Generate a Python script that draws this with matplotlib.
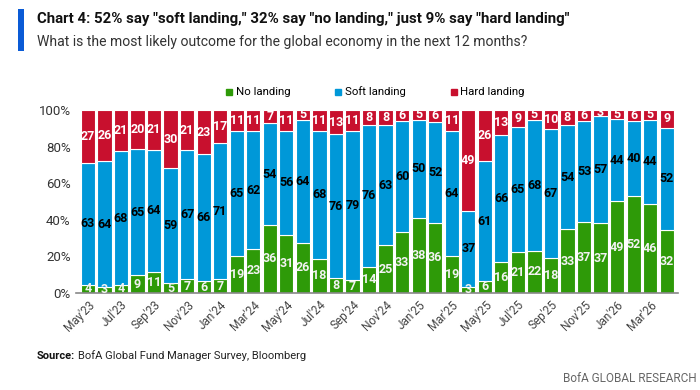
import matplotlib as mpl
mpl.use("Agg")
import matplotlib.pyplot as plt
from matplotlib.lines import Line2D
from matplotlib.patches import Rectangle
import numpy as np

mpl.rcParams["font.family"] = ["Roboto", "DejaVu Sans"]

months = ["May'23", "Jun'23", "Jul'23", "Aug'23", "Sep'23", "Oct'23", "Nov'23", "Dec'23",
          "Jan'24", "Feb'24", "Mar'24", "Apr'24", "May'24", "Jun'24", "Jul'24", "Aug'24",
          "Sep'24", "Oct'24", "Nov'24", "Dec'24", "Jan'25", "Feb'25", "Mar'25", "Apr'25",
          "May'25", "Jun'25", "Jul'25", "Aug'25", "Sep'25", "Oct'25", "Nov'25", "Dec'25",
          "Jan'26", "Feb'26", "Mar'26", "Apr'26"]
no_landing = [4, 3, 4, 9, 11, 5, 7, 6, 7, 19, 23, 36, 31, 26, 18, 8, 7, 14, 25, 33,
              38, 36, 19, 3, 6, 16, 21, 22, 18, 33, 37, 37, 49, 52, 46, 32]
soft_landing = [63, 64, 68, 65, 64, 59, 67, 66, 71, 65, 62, 54, 56, 64, 68, 76, 79, 76, 63, 60,
                50, 52, 64, 37, 61, 66, 65, 68, 67, 54, 53, 57, 44, 40, 44, 52]
hard_landing = [27, 26, 21, 20, 21, 30, 21, 23, 17, 11, 11, 7, 11, 5, 11, 13, 11, 8, 8, 6,
                5, 6, 11, 49, 26, 13, 9, 5, 10, 8, 6, 3, 5, 6, 5, 9]

GREEN, BLUE, RED = "#2E9A08", "#0098D8", "#C8102E"

fig = plt.figure(figsize=(7, 3.9), dpi=100)
ax = fig.add_axes([0.109, 0.249, 0.86, 0.469])

x = np.arange(len(months))
raw = np.array([no_landing, soft_landing, hard_landing], dtype=float)
share = raw / raw.sum(axis=0) * 100
colors = [GREEN, BLUE, RED]
txt_colors = ["#F2F2F2", "black", "white"]
bottom = np.zeros(len(months))
for vals, shr, c, tc in zip(raw, share, colors, txt_colors):
    ax.bar(x, shr, bottom=bottom, width=0.86, color=c, edgecolor="white", linewidth=0.8)
    for xi, b, h, v in zip(x, bottom, shr, vals):
        ax.text(xi, b + h / 2, f"{int(v)}", ha="center", va="center", fontsize=9,
                fontweight="bold", color=tc, clip_on=True)
    bottom += shr

ax.set_xlim(-0.7, len(months) - 0.3)
ax.set_ylim(0, 100)
ax.set_yticks(range(0, 101, 20))
ax.set_yticklabels([f"{v}%" for v in range(0, 101, 20)], color="#333333", fontsize=9.5)
ax.set_xticks(x[::2])
ax.set_xticklabels(months[::2], rotation=45, ha="right", rotation_mode="anchor",
                   color="#444444", fontsize=8.5)
ax.tick_params(length=0, pad=4)
for s in ["top", "right", "left"]:
    ax.spines[s].set_visible(False)
ax.spines["bottom"].set_color("#888888")
ax.spines["bottom"].set_linewidth(1.2)

handles = [Line2D([], [], marker="s", ls="none", color=c, markersize=4.5) for c in colors]
fig.legend(handles, ["No landing", "Soft landing", "Hard landing"], loc="center",
           bbox_to_anchor=(0.536, 0.764), ncol=3, frameon=False, fontsize=8.2,
           handlelength=0.6, handletextpad=0.3, columnspacing=3.9)

fig.add_artist(Rectangle((0.026, 0.868), 0.008, 0.11, transform=fig.transFigure,
                         color="#0A5BD6", lw=0))
fig.text(0.053, 0.952, "Chart 4: 52% say \"soft landing,\" 32% say \"no landing,\" just 9% say \"hard landing\"",
         fontsize=10.8, fontweight="bold", color="#111111", va="center")
fig.text(0.053, 0.892, "What is the most likely outcome for the global economy in the next 12 months?",
         fontsize=10.1, color="#333333", va="center")
src = fig.text(0.053, 0.088, "Source:", fontsize=8, fontweight="bold",
               color="#111111", va="center")
fig.canvas.draw()
bb = src.get_window_extent().transformed(fig.transFigure.inverted())
fig.text(bb.x1 + 0.004, 0.088, "BofA Global Fund Manager Survey, Bloomberg",
         fontsize=8, color="#222222", va="center")
fig.text(0.995, 0.03, "BofA GLOBAL RESEARCH", fontsize=8.5, color="#666666",
         ha="right", va="center")

fig.savefig("out.png", dpi=100)
